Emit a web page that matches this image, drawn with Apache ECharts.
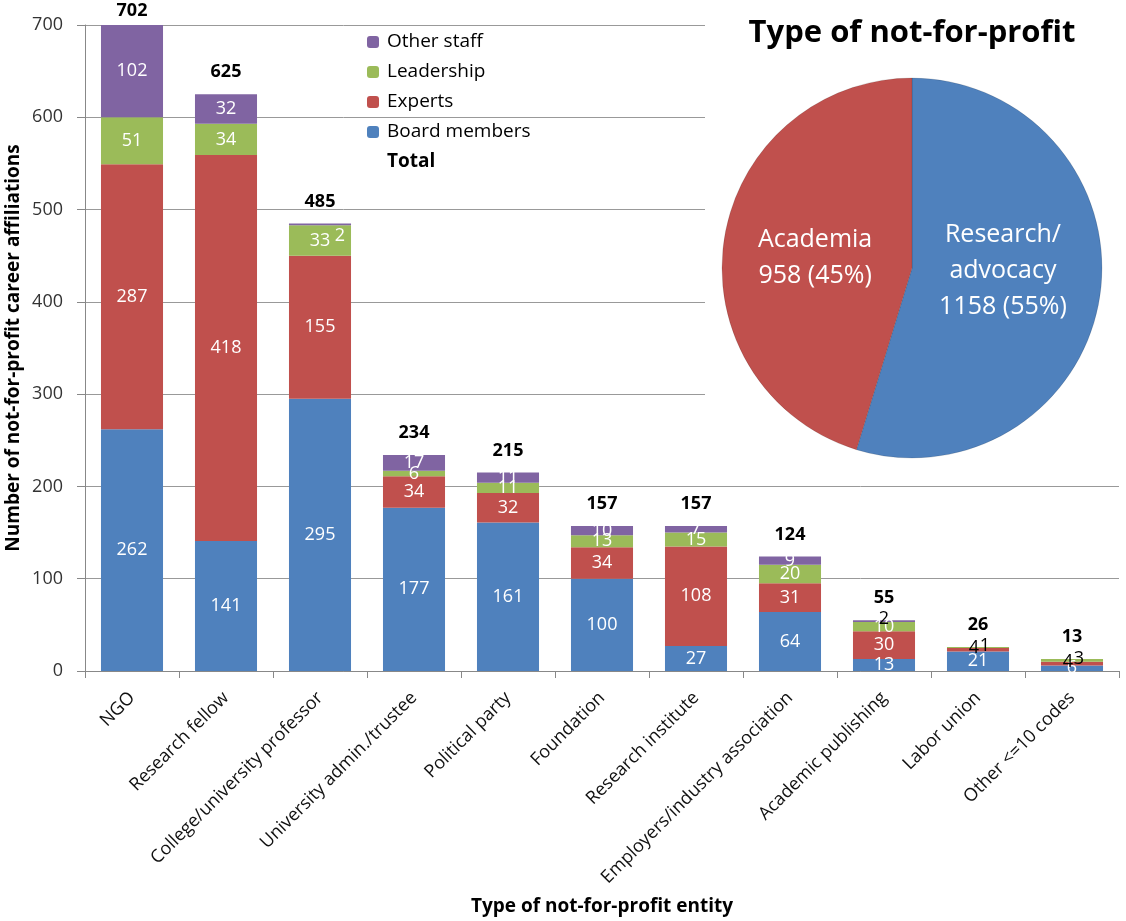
<!DOCTYPE html>
<html>
<head>
<meta charset="utf-8">
<script src="https://cdn.jsdelivr.net/npm/echarts@6/dist/echarts.min.js"></script>
<style>
html,body{margin:0;padding:0;background:#fff;}
#c{width:1126px;height:921px;}
</style>
</head>
<body>
<div id="c"></div>
<script>
const categories = ["NGO","Research fellow","College/university professor","University admin./trustee","Political party","Foundation","Research institute","Employers/industry association","Academic publishing","Labor union","Other <=10 codes"];
const boardMembers = [262,141,295,177,161,100,27,64,13,21,6];
const experts      = [287,418,155,34,32,34,108,31,30,4,4];
const leadership   = [51,34,33,6,11,13,15,20,10,1,3];
const otherStaff   = [102,32,2,17,11,10,7,9,2,0,0];
const totals       = [702,625,485,234,215,157,157,124,55,26,13];
const yTicks = {min:0, max:700, interval:100};

const pieTitle = "Type of not-for-profit";
const pieNames = ["Research/\nadvocacy","Academia"];
const pieValues = [1158, 958];
const piePercents = ["55%","45%"];

const FONT = "'Open Sans', sans-serif";
const colors = {board:'#4F81BD', experts:'#C0504D', lead:'#9BBB59', other:'#8064A2'};

// label tweaks for tiny segments (style only)
function smallLabel(seriesKey, idx, v){
  if (!(v > 0 && v < 5)) return undefined;
  if (seriesKey === 'other' && totals[idx] > 100) return {color:'#fff', offset:[20, 12]};
  if (seriesKey === 'experts') return {color:'#000', offset:[-4, -2]};
  if (seriesKey === 'lead') return {color:'#000', offset:[7, -2]};
  return {color:'#000', offset:[0, -2]};
}
function barSeries(name, key, arr, color){
  return {
    name: name, type:'bar', stack:'s', barCategoryGap:'34%',
    data: arr.map((v,i) => ({value:v, label: smallLabel(key, i, v)})),
    itemStyle:{color: color},
    label:{show:true, position:'inside', color:'#fff', fontSize:18, fontFamily:FONT,
      formatter: p => p.value ? String(p.value) : ''},
    z: 3
  };
}
const maxTotal = Math.max.apply(null, totals);

const chart = echarts.init(document.getElementById('c'), null, {renderer:'canvas'});
chart.setOption({
  animation:false,
  backgroundColor:'#fff',
  title:{text:pieTitle, left:907, top:13, textAlign:'center',
    textStyle:{fontFamily:FONT, fontWeight:'bold', fontSize:31, color:'#000'}},
  legend:{
    orient:'vertical', left:362, top:26, itemWidth:12, itemHeight:12, itemGap:8,
    textStyle:{fontFamily:FONT, fontSize:19, lineHeight:22, color:'#000', padding:[0,0,0,3]},
    data:[{name:'Other staff'},{name:'Leadership'},{name:'Experts'},{name:'Board members'},
      {name:'Total', icon:'none', textStyle:{fontWeight:'bold'}}]
  },
  grid:{left:85, right:7, top:25, bottom:250, containLabel:false, outerBoundsMode:'none'},
  xAxis:{
    type:'category', data:categories,
    name:'Type of not-for-profit entity', nameLocation:'middle', nameGap:226, nameMoveOverlap:false,
    nameTextStyle:{fontFamily:FONT, fontWeight:'bold', fontSize:19, color:'#000'},
    axisLine:{lineStyle:{color:'#888'}},
    axisTick:{show:true, length:7, lineStyle:{color:'#888'}},
    axisLabel:{rotate:45, interval:0, fontFamily:FONT, fontSize:18, color:'#111', margin:24}
  },
  yAxis:{
    type:'value', min:yTicks.min, max:yTicks.max, interval:yTicks.interval,
    name:'Number of not-for-profit career affiliations', nameLocation:'middle', nameGap:62, nameMoveOverlap:false,
    nameTextStyle:{fontFamily:FONT, fontWeight:'bold', fontSize:19, color:'#000'},
    axisLine:{show:true, lineStyle:{color:'#888'}},
    axisTick:{show:true, length:8, lineStyle:{color:'#888'}},
    splitLine:{lineStyle:{color:'#999'}},
    axisLabel:{fontFamily:FONT, fontSize:18, color:'#333', margin:22}
  },
  graphic:[{type:'rect', shape:{x:705, y:0, width:421, height:470}, style:{fill:'#fff'}, z:1, silent:true}],
  series:[
    barSeries('Board members', 'board', boardMembers, colors.board),
    barSeries('Experts', 'experts', experts, colors.experts),
    barSeries('Leadership', 'lead', leadership, colors.lead),
    barSeries('Other staff', 'other', otherStaff, colors.other),
    {
      name:'Total', type:'bar', barGap:'-100%', barCategoryGap:'34%',
      data: totals.map(v => ({value:v, label: v === maxTotal ? {distance:5} : undefined})),
      itemStyle:{color:'rgba(0,0,0,0)'},
      label:{show:true, position:'top', distance:13, color:'#000', fontWeight:'bold', fontSize:18, fontFamily:FONT},
      z:4, silent:true
    },
    {
      type:'pie', center:[912,268], radius:190, startAngle:90, clockwise:true, z:5,
      data: pieNames.map((n,i)=>({name:n, value:pieValues[i],
        itemStyle:{color: i===0 ? colors.board : colors.experts},
        label:{offset: i===0 ? [-6,-12] : [0,4]}})),
      label:{position:'inside', color:'#fff', fontFamily:FONT, fontSize:25, lineHeight:36,
        formatter: p => p.name + '\n' + p.value + ' (' + piePercents[p.dataIndex] + ')'},
      labelLine:{show:false},
      itemStyle:{borderColor:'rgba(0,0,0,0.25)', borderWidth:0.5}
    }
  ]
});
</script>
</body>
</html>
